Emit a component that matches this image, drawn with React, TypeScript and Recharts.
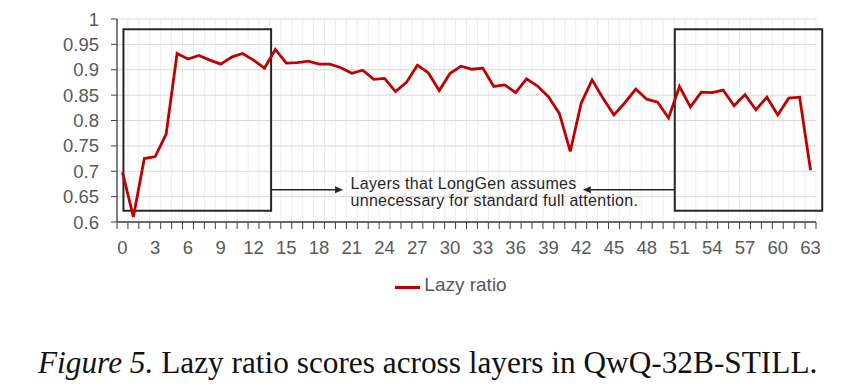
import React from 'react';
import {
  LineChart,
  Line,
  XAxis,
  YAxis,
  CartesianGrid,
  Legend,
  ReferenceArea,
  ReferenceLine,
  ReferenceDot,
} from 'recharts';

// ---- data ----
const layers: number[] = [
  0, 1, 2, 3, 4, 5, 6, 7, 8, 9, 10, 11, 12, 13, 14, 15, 16, 17, 18, 19, 20, 21, 22, 23, 24, 25, 26, 27, 28, 29, 30, 31,
  32, 33, 34, 35, 36, 37, 38, 39, 40, 41, 42, 43, 44, 45, 46, 47, 48, 49, 50, 51, 52, 53, 54, 55, 56, 57, 58, 59, 60, 61,
  62, 63,
];
const lazyRatio: number[] = [
  0.698, 0.61, 0.725, 0.729, 0.773, 0.932, 0.921, 0.928, 0.919, 0.911, 0.925, 0.932, 0.919, 0.903, 0.94, 0.913, 0.914,
  0.917, 0.911, 0.911, 0.904, 0.893, 0.899, 0.881, 0.883, 0.857, 0.875, 0.909, 0.894, 0.859, 0.893, 0.907, 0.901, 0.903,
  0.867, 0.87, 0.855, 0.882, 0.868, 0.847, 0.814, 0.739, 0.834, 0.88, 0.844, 0.811, 0.835, 0.862, 0.842, 0.836, 0.805,
  0.867, 0.827, 0.856, 0.855, 0.86, 0.829, 0.851, 0.821, 0.846, 0.811, 0.844, 0.846, 0.702,
];
const xTickLabels: number[] = [0, 3, 6, 9, 12, 15, 18, 21, 24, 27, 30, 33, 36, 39, 42, 45, 48, 51, 54, 57, 60, 63];
const yTicks: number[] = [0.6, 0.65, 0.7, 0.75, 0.8, 0.85, 0.9, 0.95, 1];
const seriesName = 'Lazy ratio';
const annotationLines: string[] = ['Layers that LongGen assumes', 'unnecessary for standard full attention.'];
const captionItalic = 'Figure 5.';
const captionRest = ' Lazy ratio scores across layers in QwQ-32B-STILL.';

// annotation boxes / arrows in data coordinates
const leftBox = { x1: 0.09, x2: 13.61, y1: 0.622, y2: 0.98 };
const rightBox = { x1: 50.57, x2: 64.07, y1: 0.622, y2: 0.98 };
const leftArrow = { from: 13.61, to: 20.2, y: 0.6635 };
const rightArrow = { from: 50.57, to: 42.15, y: 0.6635 };
const annotationAnchor = { x: 20.88, y: 0.665 };

const categoryBoundaries: number[] = [-0.5, ...layers.map((l) => l + 0.5)];
const data = layers.map((l, i) => ({ layer: l, ratio: lazyRatio[i] }));

const TICK_FONT = "'Liberation Sans', Arial, sans-serif";
const LABEL_GRAY = '#595959';
const RED = '#C00000';
const DARK = '#262626';

const EmptyTick = () => <g />;

const ArrowShape = (props: any) => {
  const { x1, y1, x2, y2 } = props;
  const dir = x2 >= x1 ? 1 : -1;
  const head = 8;
  const half = 3.5;
  return (
    <g>
      <line x1={x1} y1={y1} x2={x2 - dir * head} y2={y2} stroke={DARK} strokeWidth={1.6} />
      <polygon
        points={`${x2},${y2} ${x2 - dir * head},${y2 - half} ${x2 - dir * head},${y2 + half}`}
        fill={DARK}
      />
    </g>
  );
};

const AnnotationText = (props: any) => {
  const { cx, cy } = props;
  return (
    <g>
      <text x={cx} y={cy} fill={DARK} fontSize={16} letterSpacing={0.3} fontFamily={TICK_FONT}>
        {annotationLines[0]}
      </text>
      <text x={cx} y={cy + 17} fill={DARK} fontSize={16} letterSpacing={0.3} fontFamily={TICK_FONT}>
        {annotationLines[1]}
      </text>
    </g>
  );
};

export default function App() {
  return (
    <div style={{ position: 'absolute', left: 0, top: 0, width: 859, height: 391, background: '#ffffff' }}>
      <LineChart width={859} height={300} data={data} margin={{ top: 19, right: 43, bottom: 47, left: 57 }}>
        <CartesianGrid xAxisId="axisA" horizontal={false} stroke="#ededed" strokeWidth={1} />
        <CartesianGrid xAxisId="axisB" vertical={false} stroke="#d9d9d9" strokeWidth={1} />
        <XAxis
          xAxisId="axisB"
          type="number"
          dataKey="layer"
          domain={[-0.5, 63.5]}
          ticks={xTickLabels}
          interval={0}
          axisLine={false}
          tickLine={false}
          tickSize={0}
          tickMargin={18}
          height={30}
          tick={{ fill: LABEL_GRAY, fontSize: 18.5, fontFamily: TICK_FONT }}
        />
        <XAxis
          xAxisId="axisA"
          type="number"
          dataKey="layer"
          domain={[-0.5, 63.5]}
          ticks={categoryBoundaries}
          interval={0}
          tick={EmptyTick}
          tickSize={7}
          height={1}
          axisLine={{ stroke: '#404040', strokeWidth: 1.3 }}
          tickLine={{ stroke: '#404040', strokeWidth: 1 }}
        />
        <YAxis
          type="number"
          domain={[0.6, 1]}
          ticks={yTicks}
          interval={0}
          width={60}
          tickSize={6}
          tickMargin={12}
          axisLine={{ stroke: '#404040', strokeWidth: 1.3 }}
          tickLine={{ stroke: '#404040', strokeWidth: 1 }}
          tick={{ fill: LABEL_GRAY, fontSize: 18.5, fontFamily: TICK_FONT }}
        />
        <ReferenceArea
          xAxisId="axisB"
          x1={leftBox.x1}
          x2={leftBox.x2}
          y1={leftBox.y1}
          y2={leftBox.y2}
          fill="none"
          fillOpacity={0}
          stroke={DARK}
          strokeWidth={2}
          ifOverflow="visible"
        />
        <ReferenceArea
          xAxisId="axisB"
          x1={rightBox.x1}
          x2={rightBox.x2}
          y1={rightBox.y1}
          y2={rightBox.y2}
          fill="none"
          fillOpacity={0}
          stroke={DARK}
          strokeWidth={2}
          ifOverflow="visible"
        />
        <ReferenceLine
          xAxisId="axisB"
          segment={[
            { x: leftArrow.from, y: leftArrow.y },
            { x: leftArrow.to, y: leftArrow.y },
          ]}
          shape={ArrowShape}
          ifOverflow="visible"
        />
        <ReferenceLine
          xAxisId="axisB"
          segment={[
            { x: rightArrow.from, y: rightArrow.y },
            { x: rightArrow.to, y: rightArrow.y },
          ]}
          shape={ArrowShape}
          ifOverflow="visible"
        />
        <ReferenceDot
          xAxisId="axisB"
          x={annotationAnchor.x}
          y={annotationAnchor.y}
          r={0}
          shape={AnnotationText}
          ifOverflow="visible"
        />
        <Line
          xAxisId="axisB"
          type="linear"
          dataKey="ratio"
          name={seriesName}
          stroke={RED}
          strokeWidth={2.8}
          dot={false}
          activeDot={false}
          isAnimationActive={false}
        />
        <Legend
          verticalAlign="middle"
          layout="horizontal"
          align="center"
          iconType="plainline"
          iconSize={25}
          wrapperStyle={{ position: 'absolute', top: 274, left: 100, width: 712 }}
          formatter={(value: string) => (
            <span style={{ color: LABEL_GRAY, fontSize: 19, fontFamily: TICK_FONT }}>{value}</span>
          )}
        />
      </LineChart>
      <div
        style={{
          position: 'absolute',
          left: 38,
          top: 345,
          whiteSpace: 'nowrap',
          fontFamily: "'Liberation Serif', 'Times New Roman', serif",
          fontSize: 31.3,
          lineHeight: '36px',
          color: '#111111',
        }}
      >
        <i>{captionItalic}</i>
        {captionRest}
      </div>
    </div>
  );
}
